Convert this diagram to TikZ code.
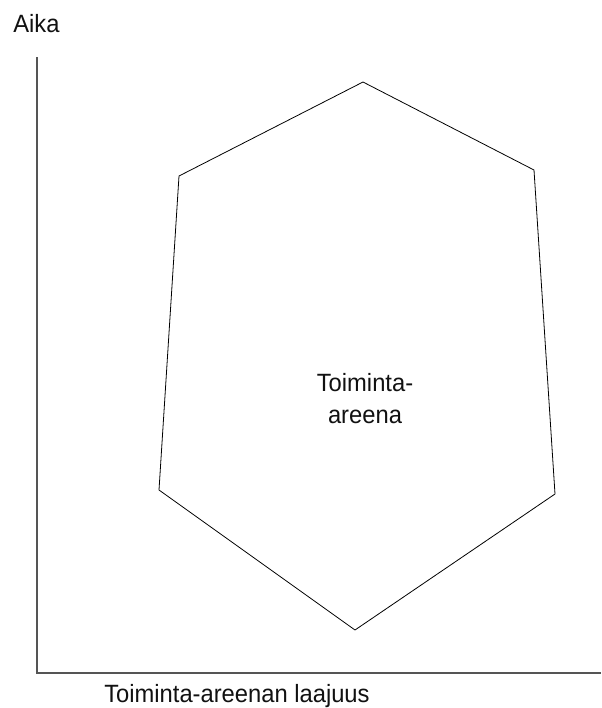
\documentclass[tikz,border=0pt]{standalone}
\usepackage{fontspec}
\setmainfont{Liberation Sans}[FakeStretch=0.95]
\usetikzlibrary{positioning}
\definecolor{axisgray}{HTML}{555555}
\definecolor{inkdark}{HTML}{111111}

\begin{document}
\begin{tikzpicture}[
  x=0.75pt,y=-0.75pt,
  every node/.style={font=\fontsize{18.75pt}{24pt}\selectfont,text=inkdark,inner sep=0pt},
  axis/.style={axisgray,line width=1pt},
  arena/.style={draw=black,line width=0.6pt,line join=miter}
]

% ---- canvas (reference framing) ----
\useasboundingbox (0,0) rectangle (601,708);

% ---- axes ----
\coordinate (origin) at (37,673);
\coordinate (ytop) at (37,57);
\coordinate (xend) at (601,673);
\draw[axis] (ytop) -- (origin) -- (xend);

\node[anchor=base west] (ylabel) at (13,32) {Aika};
\node[anchor=base west] (xlabel) at (104,702) {Toiminta-areenan laajuus};

% ---- toiminta-areena (hexagon) ----
\draw[arena] (363,82) -- (534,170) -- (555,494) -- (355,630)
  -- (159,490) -- (179,176) -- cycle;

\node[align=center,anchor=base] (arena) at (365,423) {Toiminta-\\areena};

\end{tikzpicture}
\end{document}
